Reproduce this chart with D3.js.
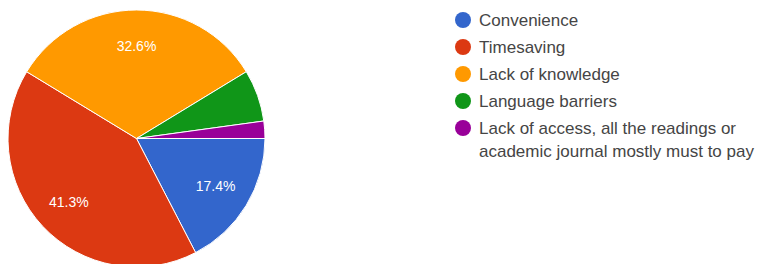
<!DOCTYPE html>
<html>
<head>
<meta charset="utf-8">
<script src="https://cdn.jsdelivr.net/npm/d3@7"></script>
<style>
  html, body { margin: 0; padding: 0; background: #fff; }
  svg { display: block; font-family: Arial, "Liberation Sans", sans-serif; }
  .slice-label { fill: #fff; font-size: 14px; }
  .legend-label { fill: #454545; font-size: 17px; }
</style>
</head>
<body>
<div id="chart"></div>
<script>
// Data (responses; percentages shown are computed from these)
const categories = [
  'Convenience',
  'Timesaving',
  'Lack of knowledge',
  'Language barriers',
  'Lack of access, all the readings or academic journal mostly must to pay',
];
const counts = [8, 19, 15, 3, 1];
const legendLines = [
  ['Convenience'],
  ['Timesaving'],
  ['Lack of knowledge'],
  ['Language barriers'],
  ['Lack of access, all the readings or', 'academic journal mostly must to pay'],
];
const colors = ['#3366cc', '#dc3912', '#ff9900', '#109618', '#990099'];

// Layout constants
const CONFIG = {
  width: 758,
  height: 264,
  cx: 136.5,
  cy: 138.5,
  radius: 128.5,
  labelRatio: 0.72,
  minLabelShare: 0.1,   // smaller slices get no label
  legendX: 463,
  legendY: 20,
  legendStep: 27,
  legendDot: 8,
  legendTextGap: 16,
  lineHeight: 23,
};

const svg = d3.select('#chart')
  .append('svg')
  .attr('width', CONFIG.width)
  .attr('height', CONFIG.height);

const total = d3.sum(counts);
const color = d3.scaleOrdinal().domain(categories).range(colors);

// Pie starts at 3 o'clock, clockwise
const pie = d3.pie()
  .sort(null)
  .value(d => d.value)
  .startAngle(Math.PI / 2)
  .endAngle(Math.PI / 2 + 2 * Math.PI);

const arcs = pie(categories.map((c, i) => ({ name: c, value: counts[i] })));

const arc = d3.arc().innerRadius(0).outerRadius(CONFIG.radius);
const labelArc = d3.arc()
  .innerRadius(CONFIG.radius * CONFIG.labelRatio)
  .outerRadius(CONFIG.radius * CONFIG.labelRatio);

const g = svg.append('g')
  .attr('transform', `translate(${CONFIG.cx}, ${CONFIG.cy})`);

g.selectAll('path.slice')
  .data(arcs)
  .join('path')
  .attr('class', 'slice')
  .attr('d', arc)
  .attr('fill', d => color(d.data.name))
  .attr('stroke', '#fff')
  .attr('stroke-width', 1);

g.selectAll('text.slice-label')
  .data(arcs.filter(d => d.value / total >= CONFIG.minLabelShare))
  .join('text')
  .attr('class', 'slice-label')
  .attr('transform', d => {
    const [x, y] = labelArc.centroid(d);
    return `translate(${x}, ${y})`;
  })
  .attr('text-anchor', 'middle')
  .attr('dy', '0.35em')
  .text(d => d3.format('.1%')(d.value / total));

// Legend
const legendY = d3.scaleLinear()
  .domain([0, 1])
  .range([CONFIG.legendY, CONFIG.legendY + CONFIG.legendStep]);

const legend = svg.append('g').attr('class', 'legend');

const items = legend.selectAll('g.item')
  .data(categories)
  .join('g')
  .attr('class', 'item')
  .attr('transform', (d, i) => `translate(${CONFIG.legendX}, ${legendY(i)})`);

items.append('circle')
  .attr('r', CONFIG.legendDot)
  .attr('fill', d => color(d));

items.append('text')
  .attr('class', 'legend-label')
  .selectAll('tspan')
  .data((d, i) => legendLines[i])
  .join('tspan')
  .attr('x', CONFIG.legendTextGap)
  .attr('y', (d, j) => j * CONFIG.lineHeight)
  .attr('dy', '0.35em')
  .text(d => d);
</script>
</body>
</html>
